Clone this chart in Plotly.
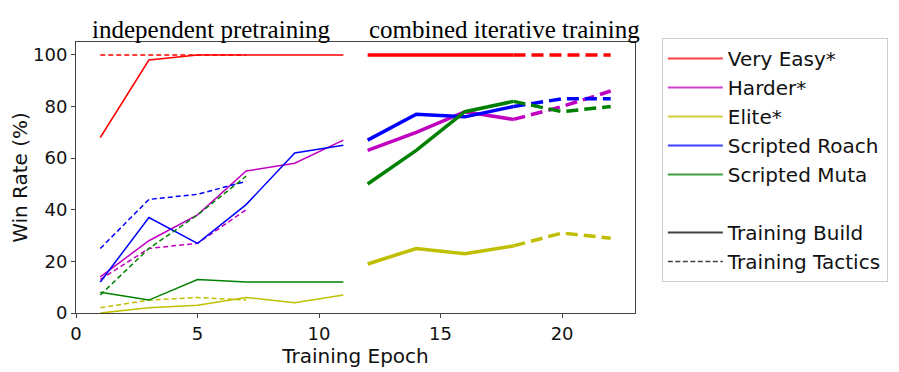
import plotly.graph_objects as go

# epochs
pre_build_x = [1, 3, 5, 7, 9, 11]
pre_tactic_x = [1, 3, 5, 7]
comb_build_x = [12, 14, 16, 18]
comb_tactic_x = [18, 20, 22]

opponents = ["Very Easy*", "Harder*", "Elite*", "Scripted Roach", "Scripted Muta"]
colors = ["#ff0000", "#bf00bf", "#bfbf00", "#0000ff", "#008000"]
legend_colors = ["rgba(255,0,0,0.75)", "rgba(191,0,191,0.75)", "rgba(191,191,0,0.75)",
                 "rgba(0,0,255,0.75)", "rgba(0,128,0,0.75)"]

# independent pretraining (win rate %)
pre_build = [
    [68, 98, 100, 100, 100, 100],
    [14, 28, 38, 55, 58, 67],
    [0, 2, 3, 6, 4, 7],
    [12, 37, 27, 42, 62, 65],
    [8, 5, 13, 12, 12, 12],
]
pre_tactic = [
    [100, 100, 100, 100],
    [13, 25, 27, 40],
    [2, 5, 6, 5],
    [25, 44, 46, 51],
    [7, 25, 38, 53],
]

# combined iterative training (win rate %)
comb_build = [
    [100, 100, 100, 100],
    [63, 70, 78, 75],
    [19, 25, 23, 26],
    [67, 77, 76, 80],
    [50, 63, 78, 82],
]
comb_tactic = [
    [100, 100, 100],
    [75, 80, 86],
    [26, 31, 29],
    [80, 83, 83],
    [82, 78, 80],
]

fig = go.Figure()

for i, name in enumerate(opponents):
    c = colors[i]
    fig.add_trace(go.Scatter(x=pre_tactic_x, y=pre_tactic[i], mode="lines", showlegend=False,
                             line=dict(color=c, width=1.5, dash="5px,3px")))
    fig.add_trace(go.Scatter(x=pre_build_x, y=pre_build[i], mode="lines", showlegend=False,
                             line=dict(color=c, width=1.5)))
    fig.add_trace(go.Scatter(x=comb_tactic_x, y=comb_tactic[i], mode="lines", showlegend=False,
                             line=dict(color=c, width=3.5, dash="12px,6px")))
    fig.add_trace(go.Scatter(x=comb_build_x, y=comb_build[i], mode="lines", showlegend=False,
                             line=dict(color=c, width=3.5)))

# legend-only entries
for i, name in enumerate(opponents):
    fig.add_trace(go.Scatter(x=[None], y=[None], mode="lines", name=name, legendgroup=name,
                             line=dict(color=legend_colors[i], width=2)))
fig.add_trace(go.Scatter(x=[None], y=[None], mode="lines", name=" ", legendgroup="blank",
                         line=dict(color="rgba(0,0,0,0)", width=2)))
fig.add_trace(go.Scatter(x=[None], y=[None], mode="lines", name="Training Build", legendgroup="build",
                         line=dict(color="rgba(0,0,0,0.75)", width=2)))
fig.add_trace(go.Scatter(x=[None], y=[None], mode="lines", name="Training Tactics", legendgroup="tactic",
                         line=dict(color="rgba(0,0,0,0.75)", width=1.5, dash="5px,2.5px")))

axis_common = dict(showline=True, linecolor="#444", linewidth=1, mirror=True, automargin=False,
                   ticks="outside", ticklen=4, tickcolor="#444", showgrid=False, zeroline=False,
                   tickfont=dict(family="DejaVu Sans", size=18, color="#111"))

fig.update_xaxes(range=[0, 23], tickvals=[0, 5, 10, 15, 20],
                 title=dict(text="Training Epoch", font=dict(family="DejaVu Sans", size=20, color="#111"),
                            standoff=0),
                 **axis_common)
fig.update_yaxes(range=[0, 105], tickvals=[0, 20, 40, 60, 80, 100],
                 title=dict(text="Win Rate (%)", font=dict(family="DejaVu Sans", size=20, color="#111"),
                            standoff=6),
                 **axis_common)

fig.add_annotation(text="independent pretraining", xref="paper", yref="paper", x=0.243, y=1,
                   xanchor="center", yanchor="bottom", yshift=-3, showarrow=False,
                   font=dict(family="Liberation Serif", size=25, color="#000"))
fig.add_annotation(text="combined iterative training", xref="paper", yref="paper", x=0.766, y=1,
                   xanchor="center", yanchor="bottom", yshift=-3, showarrow=False,
                   font=dict(family="Liberation Serif", size=25, color="#000"))

# page body adds an 8px offset, margins compensate for it
fig.update_layout(
    width=899, height=372,
    margin=dict(l=68, r=272, t=34, b=67),
    plot_bgcolor="white", paper_bgcolor="white",
    legend=dict(x=1.048, y=1.015, xanchor="left", yanchor="top", maxheight=1,
                bordercolor="#cccccc", borderwidth=1, bgcolor="white",
                font=dict(family="DejaVu Sans", size=20, color="#111"),
                tracegroupgap=0, itemwidth=55),
)

fig.write_html("out.html")
